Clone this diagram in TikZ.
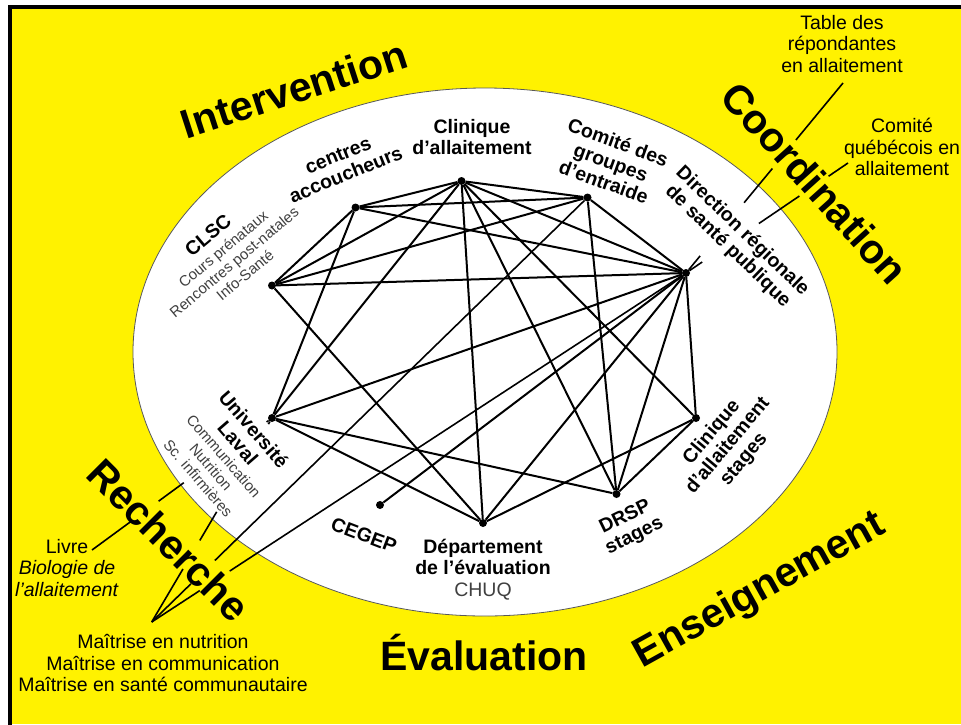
\documentclass[tikz,border=0pt]{standalone}
\usepackage{fontspec}
\setmainfont{Liberation Sans}
\usetikzlibrary{calc}

\begin{document}
\begin{tikzpicture}[x=1pt,y=-1pt,
            dot/.style={circle,fill,inner sep=0pt,minimum size=8pt},
            theme/.style={font=\fontsize{41}{41}\selectfont\bfseries},
            lbl/.style={align=center,font=\fontsize{19.5}{21}\selectfont\bfseries},
            sub/.style={align=center,text=black!75,font=\fontsize{15}{17}\selectfont},
            ext/.style={align=center,font=\fontsize{19.5}{21.5}\selectfont},
            link/.style={draw,line width=2pt},
            tie/.style={line width=1.6pt}]
            \useasboundingbox (0,0) rectangle (961,724);
            \fill[yellow] (10,7) rectangle (961,724);
            \draw[line width=4pt] (10,730) -- (10,7) -- (970,7);
            \filldraw[fill=white,draw=black!65,line width=0.8pt] (485,352) ellipse (352pt and 264pt);
            \node[dot] (clin) at (461.5,181) {};
            \node[dot] (cent) at (355.5,207.5) {};
            \node[dot] (grp) at (587.5,197.5) {};
            \node[dot] (dir) at (686,273) {};
            \node[dot] (clsc) at (272,285.5) {};
            \node[dot] (ul) at (272,418) {};
            \node[dot] (clst) at (696,418) {};
            \node[dot] (drst) at (616.5,494) {};
            \node[dot] (dep) at (483,523) {};
            \node[dot] (cegep) at (380,505) {};
            \path[every edge/.style={link}]
            (clin) edge (cent) edge (grp) edge (clsc) edge (ul) edge (dep) edge (drst) edge (clst) edge (dir)
            (cent) edge (grp) edge (clsc) edge (ul) edge (dir)
            (grp) edge (clsc) edge (dir) edge (drst)
            (dir) edge (clsc) edge (ul) edge (cegep) edge (dep) edge (drst) edge (clst)
            (ul) edge (dep) edge (drst)
            (clst) edge (drst) edge (dep)
            (clsc) edge (dep);
            \node[lbl] (clinl) at (472,137) {Clinique\\d'allaitement};
            \node[lbl,rotate=22] (centl) at (342,165) {centres\\accoucheurs};
            \node[lbl,rotate=40] (clscl) at (208,235) {CLSC};
            \node[sub,rotate=40] (clscs) at (234,262) {Cours prénataux\\Rencontres post-natales\\Info-Santé};
            \node[lbl,rotate=-20] (grpl) at (611,162) {Comité des\\groupes\\d'entraide};
            \node[lbl,rotate=-44] (dirl) at (735,239) {Direction régionale\\de santé publique};
            \node[lbl,rotate=-49] (ull) at (246,436) {Université\\Laval};
            \node[sub,rotate=-49] (uls) at (211,467) {Communication\\Nutrition\\Sc. infirmières};
            \node[lbl,rotate=-21] (cegepl) at (364,535) {CEGEP};
            \node[lbl] (depl) at (483,557) {Département\\de l'évaluation};
            \node[ext,text=black!75] (chuq) at (483,592) {CHUQ};
            \node[lbl,rotate=26] (drstl) at (630,527) {DRSP\\stages};
            \node[lbl,rotate=50] (clstl) at (728,446) {Clinique\\d'allaitement\\stages};
            \node[theme,rotate=18] (interv) at (294,89) {Intervention};
            \node[theme,rotate=-48] (coord) at (815,183) {Coordination};
            \node[theme,rotate=-45] (rech) at (169,540) {Recherche};
            \node[theme,anchor=base] (eval) at (484,670) {Évaluation};
            \node[theme,rotate=29] (ens) at (760,591) {Enseignement};
            \node[ext] (table) at (842,44) {Table des\\répondantes\\en allaitement};
            \node[ext] (cq) at (902,147) {Comité\\québécois en\\allaitement};
            \node[ext] (livre) at (67,568) {Livre\\\textit{Biologie de}\\\textit{l'allaitement}};
            \node[ext] (maitr) at (163,663) {Maîtrise en nutrition\\Maîtrise en communication\\Maîtrise en santé communautaire};
            \coordinate (tabend) at (843,83);
            \coordinate (cqend) at (848,163);
            \coordinate (livend) at (92,550);
            \coordinate (fan) at (151.7,622);
            \draw[tie] (tabend) -- ($(tabend)!.30!(dir)$) ($(tabend)!.45!(dir)$) -- ($(tabend)!.63!(dir)$) ($(tabend)!.91!(dir)$) -- (dir);
            \draw[tie] (cqend) -- ($(cqend)!.12!(dir)$) ($(cqend)!.30!(dir)$) -- ($(cqend)!.55!(dir)$) ($(cqend)!.90!(dir)$) -- (dir);
            \draw[tie] (livend) -- ($(livend)!.22!(ul)$) ($(livend)!.37!(ul)$) -- ($(livend)!.51!(ul)$) ($(livend)!.97!(ul)$) -- (ul);
            \draw[tie] (fan) -- ($(fan)!.26!(ul)$) ($(fan)!.40!(ul)$) -- ($(fan)!.54!(ul)$) ($(fan)!.97!(ul)$) -- (ul);
            \draw[tie] (fan) -- ($(fan)!.09!(grp)$) ($(fan)!.145!(grp)$) -- (grp);
            \draw[tie] (fan) -- ($(fan)!.09!(dir)$) ($(fan)!.146!(dir)$) -- (dir);
        \end{tikzpicture}
\end{document}
